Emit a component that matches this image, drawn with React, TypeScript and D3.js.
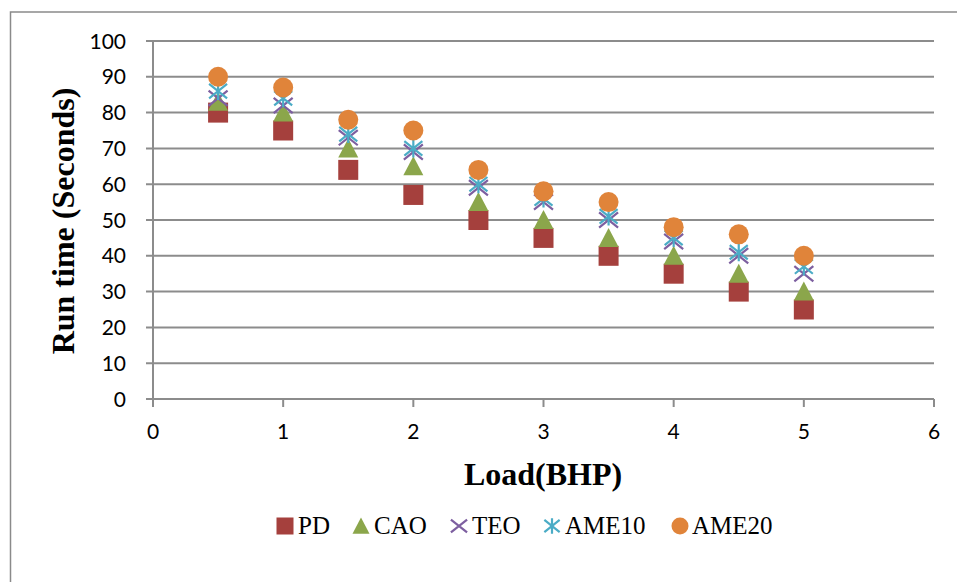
import React from 'react';
import * as d3 from 'd3';

// Load (BHP) on x, run time (seconds) on y
const loads = [0.5, 1, 1.5, 2, 2.5, 3, 3.5, 4, 4.5, 5];
const pd = [80, 75, 64, 57, 50, 45, 40, 35, 30, 25];
const cao = [83, 80, 70, 65, 55, 50, 45, 40, 35, 30];
const teo = [84, 82, 73, 69, 59, 55, 50, 44, 40, 35];
const ame10 = [86, 84, 74, 70, 60, 56, 51, 45, 41, 37];
const ame20 = [90, 87, 78, 75, 64, 58, 55, 48, 46, 40];
const seriesNames = ['PD', 'CAO', 'TEO', 'AME10', 'AME20'];
const xTicks = [0, 1, 2, 3, 4, 5, 6];
const yTicks = [0, 10, 20, 30, 40, 50, 60, 70, 80, 90, 100];

const colors: Record<string, string> = {
  PD: '#A5403D',
  CAO: '#8BA64B',
  TEO: '#7D5FA0',
  AME10: '#4BACC6',
  AME20: '#E0843A',
};

const grid = '#8c8c8c';
const tickFont = 'Lato, "Open Sans", sans-serif';
const serif = '"Liberation Serif", "Times New Roman", Times, serif';

function Marker({ name, x, y, s = 10 }: { name: string; x: number; y: number; s?: number }) {
  const c = colors[name];
  if (name === 'PD') return <rect x={x - s} y={y - s} width={s * 2} height={s * 2} fill={c} />;
  if (name === 'CAO') {
    return <path d={`M${x},${y - s}L${x + s},${y + s * 0.9}L${x - s},${y + s * 0.9}Z`} fill={c} />;
  }
  if (name === 'TEO') {
    const k = s * 0.95;
    return (
      <path d={`M${x - k},${y - k * 0.8}L${x + k},${y + k * 0.8}M${x + k},${y - k * 0.8}L${x - k},${y + k * 0.8}`}
        stroke={c} strokeWidth={2.2} fill="none" />
    );
  }
  if (name === 'AME10') {
    const k = s * 0.9;
    return (
      <path d={`M${x - k},${y - k * 0.8}L${x + k},${y + k * 0.8}M${x + k},${y - k * 0.8}L${x - k},${y + k * 0.8}M${x},${y - k}L${x},${y + k}`}
        stroke={c} strokeWidth={2.2} fill="none" />
    );
  }
  return <circle cx={x} cy={y} r={s} fill={c} />;
}

export default function App() {
  const x = d3.scaleLinear().domain([0, 6]).range([153, 934]);
  const y = d3.scaleLinear().domain([0, 100]).range([399, 41]);
  const data: Record<string, number[]> = { PD: pd, CAO: cao, TEO: teo, AME10: ame10, AME20: ame20 };

  const legendItems = [
    { name: 'PD', mx: 285, tx: 298 },
    { name: 'CAO', mx: 361, tx: 374 },
    { name: 'TEO', mx: 459, tx: 472 },
    { name: 'AME10', mx: 552, tx: 565 },
    { name: 'AME20', mx: 680, tx: 692 },
  ];

  return (
    <div style={{ position: 'absolute', left: 0, top: 0 }}>
      <svg width={957} height={582} style={{ display: 'block', background: '#fff' }}>
        <path d="M10.5,582V12H957" stroke="#8a8a8a" strokeWidth={1.5} fill="none" />
        {yTicks.map(t => (
          <g key={t}>
            <line x1={146} x2={x(6)} y1={y(t)} y2={y(t)} stroke={grid} strokeWidth={2} />
            <text x={126} y={y(t)} dy="0.36em" textAnchor="end" fontFamily={tickFont} fontSize={21} fill="#000">
              {t}
            </text>
          </g>
        ))}
        <line x1={x(0)} x2={x(0)} y1={y(100)} y2={y(0) + 7} stroke={grid} strokeWidth={2} />
        {xTicks.map(t => (
          <g key={t}>
            <line x1={x(t)} x2={x(t)} y1={y(0)} y2={y(0) + 8} stroke={grid} strokeWidth={2} />
            <text x={x(t)} y={439} textAnchor="middle" fontFamily={tickFont} fontSize={21} fill="#000">
              {t}
            </text>
          </g>
        ))}
        {seriesNames.map(name => (
          <g key={name}>
            {loads.map((l, i) => (
              <Marker key={i} name={name} x={x(l)} y={y(data[name][i])} />
            ))}
          </g>
        ))}
        <text x={543} y={485} textAnchor="middle" fontFamily={serif} fontWeight="bold" fontSize={32} fill="#000">
          Load(BHP)
        </text>
        <text transform="translate(74,221) rotate(-90)" textAnchor="middle" fontFamily={serif} fontWeight="bold"
          fontSize={32} fill="#000">
          Run time (Seconds)
        </text>
        {legendItems.map(d => (
          <g key={d.name}>
            <Marker name={d.name} x={d.mx} y={526} s={8.5} />
            <text x={d.tx} y={534} fontFamily={serif} fontSize={25} fill="#000">
              {d.name}
            </text>
          </g>
        ))}
      </svg>
    </div>
  );
}
